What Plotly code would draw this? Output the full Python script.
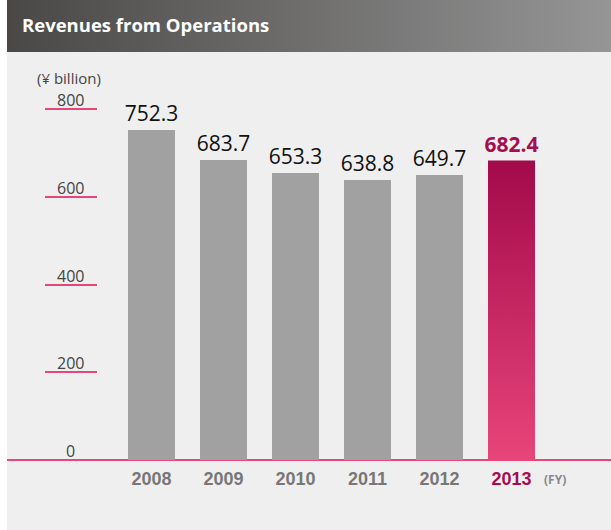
import base64
import plotly.graph_objects as go

# data
years = ["2008", "2009", "2010", "2011", "2012", "2013"]
revenues = [752.3, 683.7, 653.3, 638.8, 649.7, 682.4]
y_ticks = [0, 200, 400, 600, 800]

GREY = "#a0a1a0"
PINK = "#e8457a"
MAGENTA = "#a50d4f"
BG = "#efefef"
BAR_W = 0.653

idx = list(range(len(years)))
last = idx[-1]

# header gradient as an svg image
svg = ('<svg xmlns="http://www.w3.org/2000/svg" width="604" height="52" preserveAspectRatio="none">'
       '<defs><linearGradient id="g" x1="0" x2="1" y1="0" y2="0">'
       '<stop offset="0" stop-color="#4a4847"/><stop offset="1" stop-color="#959595"/>'
       '</linearGradient></defs><rect width="604" height="52" fill="url(#g)"/></svg>')
header_src = "data:image/svg+xml;base64," + base64.b64encode(svg.encode()).decode()

bar_colors = [GREY] * (len(years) - 1) + ["rgba(0,0,0,0)"]
label_colors = ["#111111"] * (len(years) - 1) + [MAGENTA]
labels = [f"{v:.1f}" for v in revenues[:-1]] + [f"<b>{revenues[-1]:.1f}</b>"]

bars = go.Bar(
    x=idx, y=revenues, width=BAR_W,
    marker=dict(color=bar_colors, line=dict(width=0)),
    text=labels, textposition="outside", constraintext="none",
    textfont=dict(family="Open Sans", size=21, color=label_colors),
    cliponaxis=False, hoverinfo="skip",
)

# latest year bar with a vertical gradient
h = BAR_W / 2
v = revenues[last]
grad_bar = go.Scatter(
    x=[last - h, last + h, last + h, last - h, last - h],
    y=[0, 0, v, v, 0],
    mode="lines", fill="toself", line=dict(width=0),
    fillgradient=dict(type="vertical", colorscale=[[0, PINK], [1, "#a30a4a"]]),
    hoverinfo="skip",
)

fig = go.Figure(data=[bars, grad_bar])

tick_text = [y for y in years[:-1]] + [f'<span style="color:{MAGENTA}">{years[-1]}</span>']

plot_h = 478
fig.update_layout(
    width=611, height=530,
    margin=dict(l=7, r=0, t=52, b=0),
    paper_bgcolor="white", plot_bgcolor=BG,
    showlegend=False,
    bargap=0,
    xaxis=dict(
        range=[-2.007, 6.382], tickvals=idx, ticktext=tick_text,
        showgrid=False, zeroline=False, showline=False, ticks="",
        anchor="free", position=70 / plot_h, ticklabelstandoff=6,
        tickfont=dict(family="Liberation Sans", size=18, color="#777777", weight="bold"),
    ),
    yaxis=dict(
        range=[-70 / 0.43875, (460 - 52) / 0.43875],
        tickvals=y_ticks[1:], showticklabels=False,
        ticks="inside", ticklen=52, tickwidth=1.5, tickcolor=PINK,
        anchor="free", position=37 / 604,
        showgrid=False, showline=False,
        zeroline=True, zerolinecolor=PINK, zerolinewidth=2,
    ),
    images=[dict(
        source=header_src, xref="paper", yref="paper",
        x=0, y=1 + 52 / plot_h, sizex=1, sizey=52 / plot_h,
        xanchor="left", yanchor="top", sizing="stretch", layer="above",
    )],
)

annotations = [
    dict(text="<b>Revenues from Operations</b>", xref="paper", yref="paper",
         x=13 / 604, y=1 + 27 / plot_h, xanchor="left", yanchor="middle",
         showarrow=False, font=dict(family="Open Sans", size=18.5, color="white")),
    dict(text="(¥ billion)", xref="paper", yref="paper",
         x=62 / 604, y=(530 - 78) / plot_h, xanchor="center", yanchor="middle",
         showarrow=False, font=dict(family="Open Sans", size=15, color="#444444")),
    dict(text="<b>(FY)</b>", xref="x", yref="paper",
         x=5.6, y=(530 - 479) / plot_h, xanchor="center", yanchor="middle",
         showarrow=False, font=dict(family="Open Sans", size=12, color="#888888")),
]
for t in y_ticks:
    annotations.append(dict(
        text=str(t), xref="paper", yref="y", x=63 / 604, y=t,
        xanchor="center", yanchor="bottom", yshift=-4, showarrow=False,
        font=dict(family="Open Sans", size=16, color="#444444"),
    ))
fig.update_layout(annotations=annotations)

fig.write_html("out.html", config={"displayModeBar": False},
               post_script="document.body.style.margin='0';")
